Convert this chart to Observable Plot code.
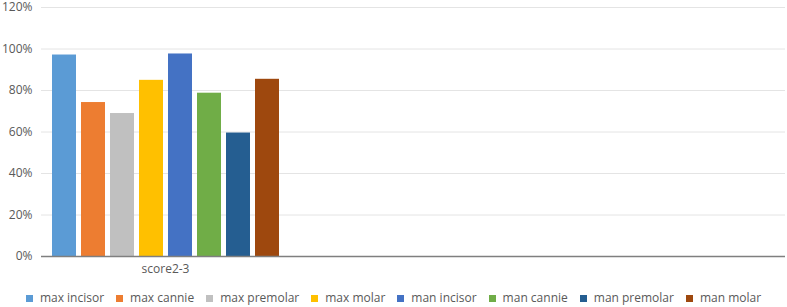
<!DOCTYPE html>
<html><head><meta charset="utf-8">
<script src="https://cdn.jsdelivr.net/npm/d3@7"></script>
<script src="https://cdn.jsdelivr.net/npm/@observablehq/plot@0.6"></script>
<style>
body{margin:0;background:#fff;font-family:"Open Sans",sans-serif;}
#legend{display:flex;justify-content:center;margin-top:8px;line-height:16px;font-size:12px;color:#595959;}
.item{display:flex;align-items:center;margin:0 6px;}
.sw{width:7px;height:7px;margin-right:7px;}
</style></head><body><div id="chart"></div><div id="legend"></div>
<script>
const categories = ["score2-3", " ", "  "];
const series = ["max incisor","max cannie","max premolar","max molar","man incisor","man cannie","man premolar","man molar"];
const values = [0.971, 0.742, 0.689, 0.849, 0.976, 0.787, 0.595, 0.854];
const colors = ["#5B9BD5","#ED7D31","#C0C0C0","#FFC000","#4472C4","#70AD47","#255E91","#9E480E"];
const yTicks = [0, 0.2, 0.4, 0.6, 0.8, 1.0, 1.2];

const data = series.map((s, i) => ({category: categories[0], series: s, value: values[i]}));
const grid = categories.flatMap(c => yTicks.slice(1).map(y => ({category: c, y})));
const base = categories.map(c => ({category: c, y: 0}));

const chart = Plot.plot({
  width: 787, height: 282,
  marginLeft: 40, marginRight: 1, marginTop: 7, marginBottom: 26,
  style: {fontFamily: "Open Sans", fontSize: "12px", color: "#595959", background: "#fff", overflow: "visible"},
  fx: {domain: categories, padding: 0, label: null, tickSize: 0, axis: "bottom", tickPadding: 8},
  x: {domain: series, paddingInner: 0.18, paddingOuter: 0.3, axis: null},
  y: {domain: [0, 1.2], ticks: yTicks, tickFormat: d => Math.round(d * 100) + "%", tickSize: 0, label: null, tickPadding: 9},
  color: {domain: series, range: colors},
  marks: [
    Plot.ruleY(grid, {fx: "category", y: "y", stroke: "#e4e4e4", strokeWidth: 1}),
    Plot.barY(data, {fx: "category", x: "series", y: "value", fill: "series"}),
    Plot.ruleY(base, {fx: "category", y: "y", stroke: "#7f7f7f", strokeWidth: 1.5})
  ]
});
document.getElementById("chart").append(chart);

const legend = document.getElementById("legend");
series.forEach((s, i) => {
  const it = document.createElement("div");
  it.className = "item";
  const sw = document.createElement("span");
  sw.className = "sw";
  sw.style.background = colors[i];
  const t = document.createElement("span");
  t.textContent = s;
  it.append(sw, t);
  legend.append(it);
});
</script></body></html>
